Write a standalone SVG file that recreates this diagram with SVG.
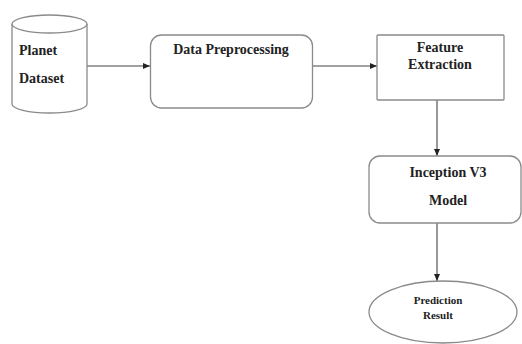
<svg xmlns="http://www.w3.org/2000/svg" width="522" height="344" viewBox="0 0 522 344">
<defs>
<style>
.shape{fill:#fff;stroke:#8a8a8a;stroke-width:1.3}
text{font-family:'Liberation Serif','Times New Roman',serif;font-weight:bold;font-size:14px;fill:#222}
.s{font-size:11px}
.c{stroke:#444;stroke-width:1.1;fill:none;marker-end:url(#ah)}
</style>
<marker id="ah" markerWidth="8" markerHeight="8" refX="7" refY="4" orient="auto" markerUnits="userSpaceOnUse">
<path d="M0,1 L7,4 L0,7 Z" fill="#222"/>
</marker>
</defs>
<rect width="522" height="344" fill="#fff"/>
<g id="connectors">
<line class="c" x1="87" y1="66" x2="150" y2="66"/>
<line class="c" x1="313" y1="66" x2="377" y2="66"/>
<line class="c" x1="437" y1="100" x2="437" y2="156"/>
<line class="c" x1="437" y1="223" x2="437" y2="281"/>
</g>
<g id="planet-dataset">
<path class="shape" d="M12,24 L12,104 A37.5,9 0 0 0 87,104 L87,24"/>
<ellipse class="shape" cx="49.5" cy="24" rx="37.5" ry="9"/>
<text x="19" y="55">Planet</text>
<text x="19" y="83">Dataset</text>
</g>
<g id="data-preprocessing">
<rect class="shape" x="150.5" y="35" width="162" height="73" rx="11"/>
<text x="231" y="54" text-anchor="middle">Data Preprocessing</text>
</g>
<g id="feature-extraction">
<rect class="shape" x="377" y="35" width="127" height="65" rx="1"/>
<text x="440" y="52" text-anchor="middle">Feature</text>
<text x="440" y="69" text-anchor="middle">Extraction</text>
</g>
<g id="inception-v3">
<rect class="shape" x="369" y="156" width="152" height="67" rx="11"/>
<text x="448" y="177" text-anchor="middle">Inception V3</text>
<text x="448" y="205" text-anchor="middle">Model</text>
</g>
<g id="prediction-result">
<ellipse class="shape" cx="443" cy="312" rx="74" ry="31"/>
<text class="s" x="438" y="304" text-anchor="middle">Prediction</text>
<text class="s" x="438" y="319" text-anchor="middle">Result</text>
</g>
</svg>
